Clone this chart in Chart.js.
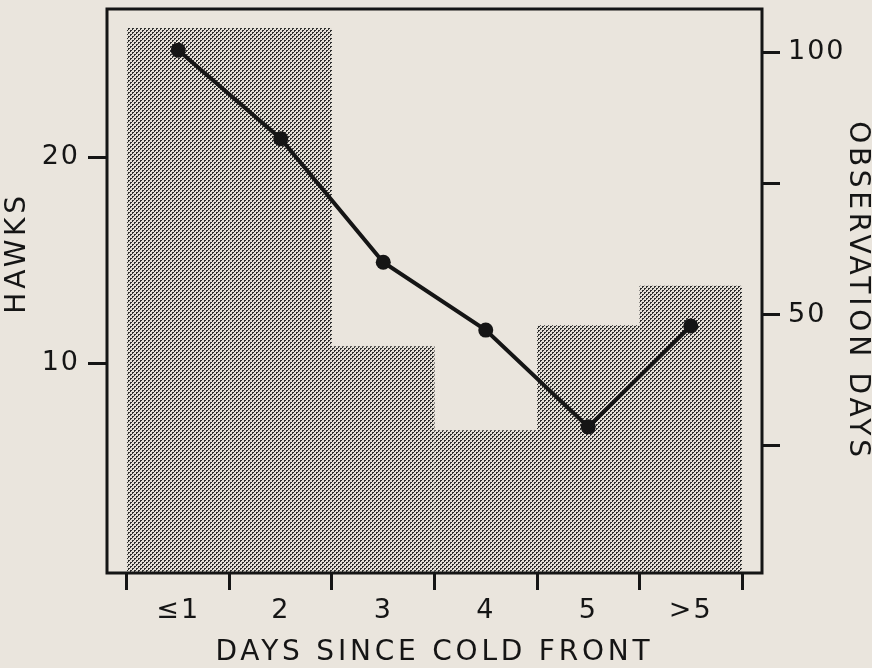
<!DOCTYPE html>
<html><head><meta charset="utf-8">
<script src="https://cdn.jsdelivr.net/npm/chart.js@4/dist/chart.umd.min.js"></script>
<style>html,body{margin:0;padding:0;background:#eae5dd;overflow:hidden}</style>
</head><body>
<canvas id="c" width="872" height="668" style="width:872px;height:668px;display:block"></canvas>
<script>
// ---- data ----
const categories = ['≤1', '2', '3', '4', '5', '>5'];
const hawks = [25.2, 20.9, 14.9, 11.6, 6.9, 11.8];
const observationDays = [104.6, 104.6, 44, 28, 48, 55.5];
const hawkTicks = [10, 20];
const dayTicks = [25, 50, 75, 100];
const dayTickLabels = ['', '50', '', '100'];

// ---- letter spacing per font size (titles wider) ----
const proto = CanvasRenderingContext2D.prototype;
const origFill = proto.fillText;
proto.fillText = function (t, x, y, m) {
  this.letterSpacing = /28px/.test(this.font) ? '3.8px' : '2px';
  return m === undefined ? origFill.call(this, t, x, y) : origFill.call(this, t, x, y, m);
};

const canvas = document.getElementById('c');
const ctx = canvas.getContext('2d');

// stipple pattern (halftone dots)
const pc = document.createElement('canvas');
pc.width = 4; pc.height = 4;
const p = pc.getContext('2d');
p.fillStyle = '#e4dfd7'; p.fillRect(0, 0, 4, 4);
p.fillStyle = '#2e2e2e';
[[0,0],[1,0],[0,1],[2,2],[3,2],[2,3]].forEach(([a, b]) => p.fillRect(a, b, 1, 1));
const stipple = ctx.createPattern(pc, 'repeat');

const INK = '#151515';
Chart.defaults.color = INK;
Chart.defaults.font.family = "'DejaVu Sans', sans-serif";

const tickFont = { size: 27, family: "'DejaVu Sans', sans-serif" };
const titleFont = { size: 28, family: "'DejaVu Sans', sans-serif", lineHeight: 1 };

const frame = {
  id: 'frame',
  afterDraw(chart) {
    const { ctx, chartArea: a } = chart;
    ctx.save();
    ctx.strokeStyle = INK; ctx.lineWidth = 3;
    ctx.strokeRect(a.left, a.top, a.right - a.left, a.bottom - a.top);
    ctx.restore();
  }
};

const noPad = s => { s.paddingTop = 0; s.paddingBottom = 0; s.paddingLeft = 0; s.paddingRight = 0; };

const xTickValues = [];
for (let k = 0; k <= categories.length * 2; k++) xTickValues.push(-0.5 + k * 0.5);

new Chart(ctx, {
  data: {
    datasets: [
      {
        type: 'line',
        data: hawks.map((v, i) => ({ x: i, y: v })),
        xAxisID: 'x', yAxisID: 'y',
        borderColor: INK, borderWidth: 4,
        pointRadius: 7.5, pointBackgroundColor: INK, pointBorderWidth: 0,
        tension: 0, order: 0
      },
      {
        type: 'bar',
        data: observationDays.map((v, i) => ({ x: i, y: v })),
        xAxisID: 'x', yAxisID: 'y1',
        backgroundColor: stipple, borderWidth: 0,
        barPercentage: 1, categoryPercentage: 2, order: 1
      }
    ]
  },
  options: {
    responsive: false, animation: false,
    layout: { padding: { top: 9, left: 0, right: 0, bottom: 0 } },
    plugins: { legend: { display: false }, tooltip: { enabled: false } },
    scales: {
      x: {
        type: 'linear', position: 'bottom', offset: false,
        min: -0.695, max: 5.695,
        afterBuildTicks: s => { s.ticks = xTickValues.map(v => ({ value: v })); },
        afterFit: s => { s.height = 95; noPad(s); },
        ticks: {
          autoSkip: false, maxRotation: 0, padding: 5, font: tickFont,
          callback: v => Number.isInteger(v) ? categories[v] : ''
        },
        grid: {
          offset: false, drawOnChartArea: false, tickLength: 17, tickWidth: 3,
          tickColor: c => (c.tick && !Number.isInteger(c.tick.value)) ? INK : 'rgba(0,0,0,0)'
        },
        border: { display: false },
        title: { display: true, text: 'DAYS SINCE COLD FRONT', font: titleFont, padding: { top: 0, bottom: 1 } }
      },
      y: {
        type: 'linear', position: 'left',
        min: -0.2, max: 27.2,
        afterBuildTicks: s => { s.ticks = hawkTicks.map(v => ({ value: v })); },
        afterFit: s => { s.width = 107; noPad(s); },
        ticks: { padding: 8, font: tickFont },
        grid: { drawOnChartArea: false, tickLength: 19, tickWidth: 3, tickColor: INK },
        border: { display: false },
        title: { display: true, text: '\u00a0\u00a0\u00a0\u00a0\u00a0\u00a0HAWKS', font: titleFont, padding: { top: 4, bottom: 0 } }
      },
      y1: {
        type: 'linear', position: 'right',
        min: 0.8, max: 108.2,
        afterBuildTicks: s => { s.ticks = dayTicks.map(v => ({ value: v })); },
        afterFit: s => { s.width = 110; noPad(s); },
        ticks: { padding: 8, font: tickFont, callback: v => dayTickLabels[dayTicks.indexOf(v)] },
        grid: { drawOnChartArea: false, tickLength: 18, tickWidth: 3, tickColor: INK },
        border: { display: false },
        title: { display: true, text: 'OBSERVATION DAYS', font: titleFont, padding: { top: 1, bottom: 0 } }
      }
    }
  },
  plugins: [frame]
});
</script>
</body></html>
